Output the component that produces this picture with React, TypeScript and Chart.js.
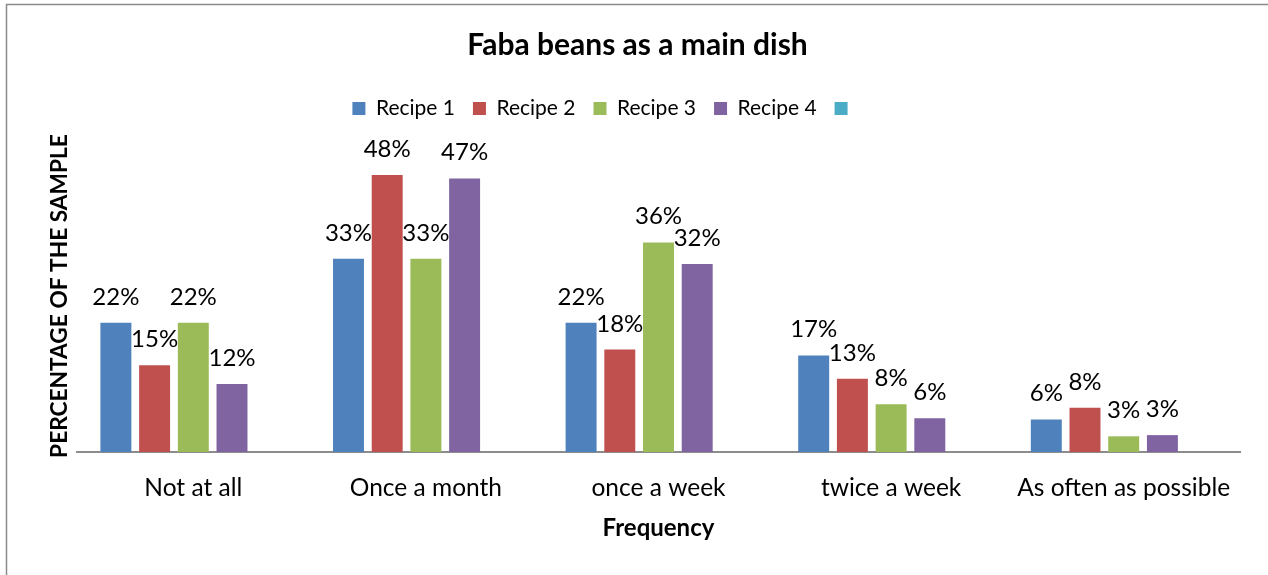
import React, { useEffect, useRef } from "react";
import { Chart, registerables } from "chart.js";

Chart.register(...registerables);

const categories = ["Not at all", "Once a month", "once a week", "twice a week", "As often as possible"];
const seriesNames = ["Recipe 1", "Recipe 2", "Recipe 3", "Recipe 4", "            "];
const recipe1 = [22.2, 33.2, 22.2, 16.6, 5.6];
const recipe2 = [14.9, 47.6, 17.6, 12.6, 7.6];
const recipe3 = [22.2, 33.2, 36.0, 8.2, 2.7];
const recipe4 = [11.7, 47.0, 32.3, 5.8, 2.9];
const recipe5: (number | null)[] = [null, null, null, null, null];
const colors = ["#4F81BD", "#C0504D", "#9BBB59", "#8064A2", "#4BACC6"];
const yTitle = "PERCENTAGE OF THE SAMPLE";

const FONT = "Lato, 'Noto Sans', sans-serif";

const dataLabels = {
  id: "dataLabels",
  afterDatasetsDraw(chart: any) {
    const ctx = chart.ctx;
    ctx.save();
    ctx.font = `24px ${FONT}`;
    ctx.fillStyle = "#000";
    ctx.textAlign = "center";
    ctx.textBaseline = "alphabetic";
    chart.data.datasets.forEach((ds: any, i: number) => {
      const meta = chart.getDatasetMeta(i);
      meta.data.forEach((el: any, j: number) => {
        const v = ds.data[j];
        if (v == null) return;
        ctx.fillText(`${Math.round(v)}%`, el.x, el.y - 18);
      });
    });
    ctx.restore();
  },
};

const frame = {
  id: "frame",
  afterDraw(chart: any) {
    const ctx = chart.ctx;
    ctx.save();
    ctx.strokeStyle = "#8a8a8a";
    ctx.lineWidth = 1.5;
    ctx.beginPath();
    ctx.moveTo(6.5, 575);
    ctx.lineTo(6.5, 4.5);
    ctx.lineTo(1268, 4.5);
    ctx.stroke();
    // y axis title
    ctx.translate(60, 296);
    ctx.rotate(-Math.PI / 2);
    ctx.font = `bold 22.7px ${FONT}`;
    ctx.fillStyle = "#000";
    ctx.textAlign = "center";
    ctx.textBaseline = "middle";
    ctx.fillText(yTitle, 0, 0);
    ctx.restore();
  },
};

export default function App() {
  const ref = useRef<HTMLCanvasElement>(null);
  useEffect(() => {
    if (!ref.current) return;
    const series = [recipe1, recipe2, recipe3, recipe4, recipe5];
    const chart = new Chart(ref.current, {
      type: "bar",
      data: {
        labels: categories,
        datasets: series.map((d, i) => ({
          label: seriesNames[i],
          data: d,
          backgroundColor: colors[i],
          borderWidth: 0,
          barPercentage: 0.8,
          categoryPercentage: 0.832,
        })),
      },
      options: {
        responsive: false,
        animation: false,
        devicePixelRatio: 1,
        layout: { padding: { top: 4, left: 7, right: 0, bottom: 0 } },
        plugins: {
          title: {
            display: true,
            text: "Faba beans as a main dish",
            color: "#000",
            font: { family: FONT, size: 30, weight: "bold" },
            padding: { top: 23, bottom: 17 },
          },
          legend: {
            display: true,
            position: "top",
            labels: {
              color: "#000",
              font: { family: FONT, size: 21 },
              boxWidth: 13,
              boxHeight: 13,
              padding: 18,
            },
          },
          tooltip: { enabled: false },
        },
        scales: {
          x: {
            grid: { display: false, drawTicks: false },
            border: { display: true, color: "#8c8c8c", width: 2 },
            ticks: { color: "#000", font: { family: FONT, size: 24.5 }, padding: 21, maxRotation: 0 },
            title: {
              display: true,
              text: "Frequency",
              color: "#000",
              font: { family: FONT, size: 24, weight: "bold" },
              padding: { top: 6, bottom: 32 },
            },
            afterFit: (s: any) => {
              s.height = 123;
            },
          },
          y: {
            min: 0,
            max: 55.5,
            grid: { display: false, drawTicks: false },
            border: { display: false },
            ticks: { display: false },
            title: { display: false },
            afterFit: (s: any) => {
              s.width = 70;
            },
          },
          yRight: {
            position: "right",
            display: true,
            grid: { display: false, drawTicks: false },
            border: { display: false },
            ticks: { display: false },
            afterFit: (s: any) => {
              s.width = 28;
            },
          },
        },
      },
      plugins: [dataLabels, frame],
    });
    return () => chart.destroy();
  }, []);
  return (
    <div style={{ position: "absolute", left: 0, top: 0, width: 1268, height: 575, background: "#fff" }}>
      <canvas ref={ref} width={1268} height={575} style={{ display: "block" }} />
    </div>
  );
}
